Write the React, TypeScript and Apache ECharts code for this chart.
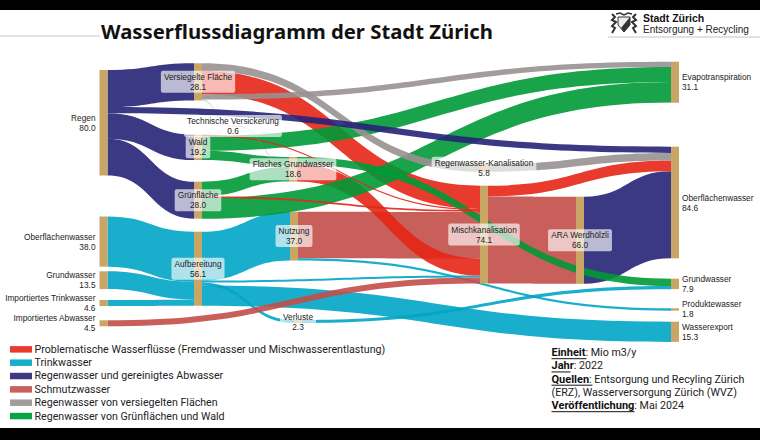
import React, { useEffect, useRef } from "react";
import * as echarts from "echarts";

const W = 760;
const KY = 1.32; // pixels per Mio m3
const NODE_W = 8;
const TAN = "#C9A566";

const RED = "#E52616";
const CYAN = "#00A5C5";
const NAVY = "#262477";
const BROWN = "#C34E48";
const GREY = "#999191";
const GREEN = "#009936";

const nodeIds = [
  "Regen", "Oberflächenwasser", "Grundwasser", "Importiertes Trinkwasser", "Importiertes Abwasser",
  "Versiegelte Fläche", "Wald", "Grünfläche", "Aufbereitung", "Technische Versickerung",
  "Flaches Grundwasser", "Nutzung", "Verluste", "Regenwasser-Kanalisation", "Mischkanalisation",
  "ARA Werdhölzli", "Evapotranspiration", "Oberflächenwasser Ziel", "Grundwasser Ziel", "Produktewasser", "Wasserexport",
];
const nodeTexts = [
  "Regen", "Oberflächenwasser", "Grundwasser", "Importiertes Trinkwasser", "Importiertes Abwasser",
  "Versiegelte Fläche", "Wald", "Grünfläche", "Aufbereitung", "Technische Versickerung",
  "Flaches Grundwasser", "Nutzung", "Verluste", "Regenwasser-Kanalisation", "Mischkanalisation",
  "ARA Werdhölzli", "Evapotranspiration", "Oberflächenwasser", "Grundwasser", "Produktewasser", "Wasserexport",
];
const nodeValues = [80.0, 38.0, 13.5, 4.6, 4.5, 28.1, 19.2, 28.0, 56.1, 0.6, 18.6, 37.0, 2.3, 5.8, 74.1, 66.0, 31.1, 84.6, 7.9, 1.8, 15.3];
const nodeXs = [99.5, 99.5, 99.5, 99.5, 99.5, 194, 194, 194, 194, 229, 289, 290, 294, 480, 480, 576, 671, 671, 671, 671, 671];
const nodeYs = [70, 216.5, 271.3, 300, 320.3, 63.3, 134.7, 181.7, 231.7, 125.5, 157, 211.7, 320, 164, 185.7, 196.7, 61.7, 146.7, 278.7, 308.3, 321.7];
const nodeSides = ["left", "left", "left", "left", "left", "inside", "inside", "inside", "inside", "inside", "inside", "inside", "inside", "inside", "inside", "inside", "right", "right", "right", "right", "right"];

// listed back to front
const flows: [string, string, number, string][] = [
  ["Nutzung", "Mischkanalisation", 35.2, BROWN],
  ["Mischkanalisation", "ARA Werdhölzli", 66.0, BROWN],
  ["ARA Werdhölzli", "Oberflächenwasser Ziel", 66.0, NAVY],
  ["Oberflächenwasser", "Aufbereitung", 38.0, CYAN],
  ["Grundwasser", "Aufbereitung", 13.5, CYAN],
  ["Importiertes Trinkwasser", "Aufbereitung", 4.6, CYAN],
  ["Aufbereitung", "Nutzung", 37.0, CYAN],
  ["Aufbereitung", "Wasserexport", 15.3, CYAN],
  ["Aufbereitung", "Verluste", 2.3, CYAN],
  ["Aufbereitung", "Mischkanalisation", 1.5, CYAN],
  ["Verluste", "Grundwasser Ziel", 2.3, CYAN],
  ["Nutzung", "Produktewasser", 1.8, CYAN],
  ["Importiertes Abwasser", "Mischkanalisation", 4.5, BROWN],
  ["Regen", "Versiegelte Fläche", 28.1, NAVY],
  ["Regen", "Wald", 19.2, NAVY],
  ["Regen", "Grünfläche", 28.0, NAVY],
  ["Versiegelte Fläche", "Mischkanalisation", 17.6, RED],
  ["Flaches Grundwasser", "Mischkanalisation", 13.0, RED],
  ["Mischkanalisation", "Oberflächenwasser Ziel", 8.1, RED],
  ["Wald", "Flaches Grundwasser", 7.0, GREEN],
  ["Grünfläche", "Flaches Grundwasser", 11.0, GREEN],
  ["Wald", "Evapotranspiration", 11.3, GREEN],
  ["Grünfläche", "Evapotranspiration", 15.6, GREEN],
  ["Flaches Grundwasser", "Grundwasser Ziel", 5.6, GREEN],
  ["Wald", "Mischkanalisation", 0.9, RED],
  ["Grünfläche", "Mischkanalisation", 1.4, RED],
  ["Versiegelte Fläche", "Regenwasser-Kanalisation", 5.8, GREY],
  ["Regenwasser-Kanalisation", "Oberflächenwasser Ziel", 5.8, GREY],
  ["Versiegelte Fläche", "Evapotranspiration", 4.1, GREY],
  ["Versiegelte Fläche", "Technische Versickerung", 0.6, GREY],
  ["Technische Versickerung", "Flaches Grundwasser", 0.6, GREY],
  ["Regen", "Oberflächenwasser Ziel", 4.7, NAVY],
];

// top to bottom at each node's right-hand side
const outOrder: Record<string, string[]> = {
  Regen: ["Versiegelte Fläche", "Oberflächenwasser Ziel", "Wald", "Grünfläche"],
  "Versiegelte Fläche": ["Regenwasser-Kanalisation", "Mischkanalisation", "Evapotranspiration", "Technische Versickerung"],
  Wald: ["Mischkanalisation", "Evapotranspiration", "Flaches Grundwasser"],
  "Grünfläche": ["Flaches Grundwasser", "Mischkanalisation", "Evapotranspiration"],
  Aufbereitung: ["Nutzung", "Mischkanalisation", "Verluste", "Wasserexport"],
  "Flaches Grundwasser": ["Grundwasser Ziel", "Mischkanalisation"],
  Nutzung: ["Mischkanalisation", "Produktewasser"],
  Mischkanalisation: ["Oberflächenwasser Ziel", "ARA Werdhölzli"],
};
// top to bottom at each node's left-hand side
const inOrder: Record<string, string[]> = {
  Aufbereitung: ["Oberflächenwasser", "Grundwasser", "Importiertes Trinkwasser"],
  "Flaches Grundwasser": ["Wald", "Technische Versickerung", "Grünfläche"],
  Mischkanalisation: ["Versiegelte Fläche", "Wald", "Grünfläche", "Nutzung", "Flaches Grundwasser", "Aufbereitung", "Importiertes Abwasser"],
  Evapotranspiration: ["Versiegelte Fläche", "Wald", "Grünfläche"],
  "Oberflächenwasser Ziel": ["Regen", "Regenwasser-Kanalisation", "Mischkanalisation", "ARA Werdhölzli"],
  "Grundwasser Ziel": ["Flaches Grundwasser", "Verluste"],
};

const legendNames = [
  "Problematische Wasserflüsse (Fremdwasser und Mischwasserentlastung)",
  "Trinkwasser",
  "Regenwasser und gereinigtes Abwasser",
  "Schmutzwasser",
  "Regenwasser von versiegelten Flächen",
  "Regenwasser von Grünflächen und Wald",
];
const legendColors = ["#E83C2D", "#17AECB", "#3C3A85", "#C9605A", "#A39C9C", "#0BA34A"];

const infoLines: [string, string][] = [
  ["Einheit", ": Mio m3/y"],
  ["Jahr", ": 2022"],
  ["Quellen", ": Entsorgung und Recyling Zürich"],
  ["", "(ERZ), Wasserversorgung Zürich (WVZ)"],
  ["Veröffentlichung", ": Mai 2024"],
];
const infoUnderline = [35, 19, 41, 0, 83];

function buildSeries() {
  const total = nodeValues.reduce((a, b) => a + b, 0) + flows.reduce((a, f) => a + f[2], 0);
  const H = KY * total;
  const yOf: Record<string, number> = {};
  const xOf: Record<string, number> = {};
  nodeIds.forEach((id, i) => {
    yOf[id] = nodeYs[i];
    xOf[id] = nodeXs[i];
  });
  const portOffset = (list: string[] | undefined, peer: string, key: (p: string) => number) => {
    if (!list) return 0;
    let sum = 0;
    for (const p of list) {
      if (p === peer) break;
      sum += key(p);
    }
    return sum * KY;
  };
  const data: any[] = [];
  const links: any[] = [];
  flows.forEach(([s, t, v, color]) => {
    const outOff = portOffset(outOrder[s], t, (p) => flows.find((f) => f[0] === s && f[1] === p)![2]);
    const inOff = portOffset(inOrder[t], s, (p) => flows.find((f) => f[0] === p && f[1] === t)![2]);
    const a = `${s} → ${t} (aus)`;
    const b = `${s} → ${t} (ein)`;
    const hidden = { itemStyle: { opacity: 0 }, label: { show: false } };
    data.push({ name: a, depth: 0, localX: xOf[s] / W, localY: (yOf[s] + outOff) / H, ...hidden });
    data.push({ name: b, depth: 1, localX: xOf[t] / W, localY: (yOf[t] + inOff) / H, ...hidden });
    const thin = v < 1;
    links.push({
      source: a,
      target: b,
      value: v,
      lineStyle: { color, opacity: color === GREY && thin ? 0.5 : 0.9, curveness: 0.5 },
    });
  });
  nodeIds.forEach((id, i) => {
    const side = nodeSides[i];
    const label: any = {
      show: true,
      formatter: `${nodeTexts[i]}\n${nodeValues[i].toFixed(1)}`,
      fontFamily: "Liberation Sans",
      fontSize: 8.3,
      lineHeight: 10,
      color: "#222222",
    };
    if (side === "left") Object.assign(label, { position: "left", align: "right", distance: 4 });
    if (side === "right") Object.assign(label, { position: "right", align: "left", distance: 3 });
    if (side === "inside")
      Object.assign(label, {
        position: "inside",
        align: "center",
        backgroundColor: "rgba(255,255,255,0.65)",
        borderRadius: 2,
        padding: [1, 3],
      });
    data.push({
      name: id,
      value: nodeValues[i],
      depth: 0,
      localX: nodeXs[i] / W,
      localY: nodeYs[i] / H,
      itemStyle: { color: TAN, opacity: 1, borderWidth: 0 },
      label,
    });
  });
  return {
    type: "sankey",
    left: 0,
    top: 0,
    width: W,
    height: H,
    nodeWidth: NODE_W,
    nodeGap: 0,
    nodeAlign: "left",
    layoutIterations: 0,
    draggable: false,
    silent: true,
    emphasis: { disabled: true },
    data,
    links,
  };
}

function buildGraphics() {
  const g: any[] = [];
  const bottomFont = "Roboto";
  g.push({ type: "rect", shape: { x: 0, y: 0, width: W, height: 10 }, style: { fill: "#000" } });
  g.push({ type: "rect", shape: { x: 0, y: 428, width: W, height: 12 }, style: { fill: "#000" } });
  g.push({ type: "line", shape: { x1: 0, y1: 36, x2: 100, y2: 36 }, style: { stroke: "#c4c4c4", lineWidth: 1 } });
  g.push({ type: "line", shape: { x1: 608, y1: 37, x2: 760, y2: 37 }, style: { stroke: "#c4c4c4", lineWidth: 1 } });
  g.push({
    type: "text",
    x: 101,
    y: 31,
    style: { text: "Wasserflussdiagramm der Stadt Zürich", fontFamily: "Noto Sans", fontWeight: "bold", fontSize: 20.3, fill: "#111", textAlign: "left", textVerticalAlign: "middle" },
  });
  g.push({
    type: "text",
    x: 643,
    y: 17.5,
    style: { text: "Stadt Zürich", fontFamily: "Liberation Sans", fontWeight: "bold", fontSize: 10.5, fill: "#111", textVerticalAlign: "middle" },
  });
  g.push({
    type: "text",
    x: 643,
    y: 29,
    style: { text: "Entsorgung + Recycling", fontFamily: "Liberation Sans", fontSize: 10, fill: "#222", textVerticalAlign: "middle" },
  });
  // coat of arms: two lions holding a shield
  const mark = "#333333";
  g.push({ type: "polyline", shape: { points: [[612, 14], [615, 17], [612, 20], [616, 22], [612, 26], [615, 28], [612, 33]] }, style: { stroke: mark, lineWidth: 2, fill: "none" } });
  g.push({ type: "polyline", shape: { points: [[636, 14], [633, 17], [636, 20], [632, 22], [636, 26], [633, 28], [636, 33]] }, style: { stroke: mark, lineWidth: 2, fill: "none" } });
  g.push({ type: "polyline", shape: { points: [[616, 14], [620, 13], [624, 15], [628, 13], [632, 14]] }, style: { stroke: mark, lineWidth: 1.5, fill: "none" } });
  g.push({ type: "polygon", shape: { points: [[618, 17], [630, 17], [630, 25], [624, 32], [618, 25]] }, style: { fill: "#ececec", stroke: mark, lineWidth: 1 } });
  g.push({ type: "polygon", shape: { points: [[630, 17], [630, 25], [624, 32], [621, 28]] }, style: { fill: mark } });

  legendNames.forEach((n, i) => {
    const cy = 349.3 + i * 13.34;
    g.push({ type: "rect", shape: { x: 10, y: cy - 3.2, width: 22, height: 6.5 }, style: { fill: legendColors[i] } });
    g.push({
      type: "text",
      x: 34.5,
      y: cy,
      style: { text: n, fontFamily: bottomFont, fontSize: 10.65, fill: "#222", textVerticalAlign: "middle" },
    });
  });
  infoLines.forEach(([b, rest], i) => {
    const cy = 352.7 + i * 13.25;
    g.push({
      type: "text",
      x: 551.5,
      y: cy,
      style: {
        text: b ? `{b|${b}}${rest}` : rest,
        rich: { b: { fontWeight: "bold", fontFamily: bottomFont, fontSize: 11, fill: "#111" } },
        fontFamily: bottomFont,
        fontSize: 10.7,
        fill: "#222",
        textVerticalAlign: "middle",
      },
    });
    if (infoUnderline[i]) {
      g.push({
        type: "line",
        shape: { x1: 551.5, y1: cy + 6, x2: 551.5 + infoUnderline[i], y2: cy + 6 },
        style: { stroke: "#111", lineWidth: 1 },
      });
    }
  });
  return g;
}

export default function App() {
  const ref = useRef<HTMLDivElement>(null);
  useEffect(() => {
    document.body.style.margin = "0";
    document.body.style.background = "#fff";
    const chart = echarts.init(ref.current!, undefined, { renderer: "svg" });
    chart.setOption({
      animation: false,
      backgroundColor: "#ffffff",
      series: [buildSeries()],
      graphic: buildGraphics(),
    });
    return () => chart.dispose();
  }, []);
  return <div ref={ref} style={{ width: 760, height: 440 }} />;
}
